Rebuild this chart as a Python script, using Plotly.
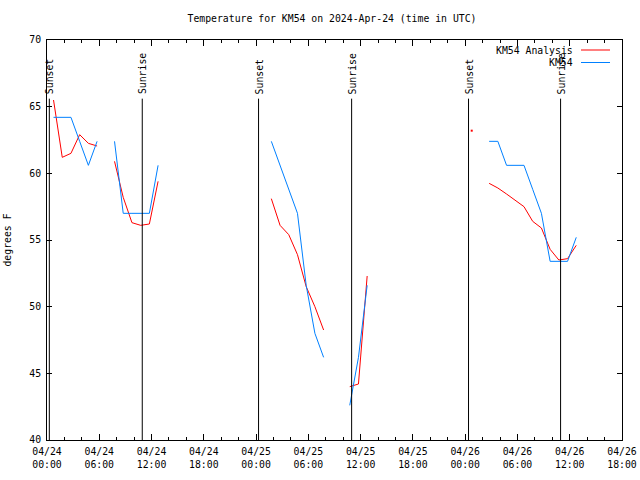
import plotly.graph_objects as go

# ---------------- data ----------------
times = [
    "2024-04-24 00:45", "2024-04-24 01:45", "2024-04-24 02:45", "2024-04-24 03:45",
    "2024-04-24 04:45", "2024-04-24 05:45", "2024-04-24 06:45", "2024-04-24 07:45",
    "2024-04-24 08:45", "2024-04-24 09:45", "2024-04-24 10:45", "2024-04-24 11:45",
    "2024-04-24 12:45", "2024-04-24 13:45",
    "2024-04-25 00:45",
    "2024-04-25 01:45", "2024-04-25 02:45", "2024-04-25 03:45", "2024-04-25 04:45",
    "2024-04-25 05:45", "2024-04-25 06:45", "2024-04-25 07:45", "2024-04-25 08:45",
    "2024-04-25 10:45", "2024-04-25 11:45", "2024-04-25 12:45", "2024-04-25 13:45",
    "2024-04-26 00:45", "2024-04-26 01:45",
    "2024-04-26 02:45", "2024-04-26 03:45", "2024-04-26 04:45", "2024-04-26 05:45",
    "2024-04-26 06:45", "2024-04-26 07:45", "2024-04-26 08:45", "2024-04-26 09:45",
    "2024-04-26 10:45", "2024-04-26 11:45", "2024-04-26 12:45",
]

analysis_temp = [
    65.5, 61.2, 61.5, 62.9,
    62.25, 62.05, None, 60.9,
    58.2, 56.3, 56.1, 56.2,
    59.4, None,
    None,
    58.1, 56.1, 55.4, 53.9,
    51.5, 50.0, 48.25, None,
    44.0, 44.2, 52.3, None,
    63.2, None,
    59.25, 58.9, 58.45, 57.95,
    57.5, 56.4, 55.9, 54.3,
    53.5, 53.6, 54.6,
]

observed_temp = [
    64.2, 64.2, 64.2, 62.4,
    60.6, 62.4, None, 62.4,
    57.0, 57.0, 57.0, 57.0,
    60.6, None,
    None,
    62.4, 60.6, 58.8, 57.0,
    51.6, 48.0, 46.2, None,
    42.6, 46.2, 51.6, None,
    None, None,
    62.4, 62.4, 60.6, 60.6,
    60.6, 58.8, 57.0, 53.4,
    53.4, 53.4, 55.2,
]

series_names = ["KM54 Analysis", "KM54"]
series_colors = ["#ff0000", "#0080ff"]

sun_events = ["Sunset", "Sunrise", "Sunset", "Sunrise", "Sunset", "Sunrise"]
sun_times = ["2024-04-24 00:16", "2024-04-24 10:56", "2024-04-25 00:17",
             "2024-04-25 10:58", "2024-04-26 00:23", "2024-04-26 10:57"]

x_tick_vals = ["2024-04-24 00:00", "2024-04-24 06:00", "2024-04-24 12:00", "2024-04-24 18:00",
               "2024-04-25 00:00", "2024-04-25 06:00", "2024-04-25 12:00", "2024-04-25 18:00",
               "2024-04-26 00:00", "2024-04-26 06:00", "2024-04-26 12:00", "2024-04-26 18:00"]
x_tick_text = ["04/24<br>00:00", "04/24<br>06:00", "04/24<br>12:00", "04/24<br>18:00",
               "04/25<br>00:00", "04/25<br>06:00", "04/25<br>12:00", "04/25<br>18:00",
               "04/26<br>00:00", "04/26<br>06:00", "04/26<br>12:00", "04/26<br>18:00"]
y_tick_vals = [40, 45, 50, 55, 60, 65, 70]

title_text = "Temperature for KM54 on 2024-Apr-24 (time in UTC)"
y_title = "degrees F"

# ---------------- figure ----------------
FONT = "DejaVu Sans Mono"
FS = 9.8
W, H = 640, 480
ML, MR, MT, MB = 47, 18, 40, 40
PW, PH = W - ML - MR, H - MT - MB


def px_to_paper(xpx, ypx):
    return (xpx - ML) / PW, (H - MB - ypx) / PH


fig = go.Figure()

for name, color, vals in [(series_names[0], series_colors[0], analysis_temp),
                          (series_names[1], series_colors[1], observed_temp)]:
    fig.add_trace(go.Scatter(x=times, y=vals, mode="lines", name=name,
                             line=dict(color=color, width=1), connectgaps=False,
                             showlegend=False))
    # isolated points (no neighbours) are drawn as dots, like gnuplot does
    iso_x, iso_y = [], []
    for i, v in enumerate(vals):
        if v is None:
            continue
        prev_none = i == 0 or vals[i - 1] is None
        next_none = i == len(vals) - 1 or vals[i + 1] is None
        if prev_none and next_none:
            iso_x.append(times[i])
            iso_y.append(v)
    if iso_x:
        fig.add_trace(go.Scatter(x=iso_x, y=iso_y, mode="markers",
                                 marker=dict(color=color, size=2, symbol="square"),
                                 showlegend=False, hoverinfo="skip"))

shapes = []
annotations = []
for ev, t in zip(sun_events, sun_times):
    shapes.append(dict(type="line", xref="x", yref="y", x0=t, x1=t, y0=40, y1=65.6,
                       line=dict(color="black", width=1)))
    annotations.append(dict(x=t, y=65.85, xref="x", yref="y", text=ev, textangle=-90,
                            showarrow=False, xanchor="center", yanchor="bottom",
                            xshift=1, borderpad=0,
                            font=dict(family=FONT, size=FS, color="black")))

# gnuplot-style key: text on the left, line sample on the right
key_rows = [50, 62.5]
for name, color, ypx in zip(series_names, series_colors, key_rows):
    xp, yp = px_to_paper(574, ypx)
    annotations.append(dict(x=xp, y=yp, xref="paper", yref="paper", text=name,
                            showarrow=False, xanchor="right", yanchor="middle", borderpad=0,
                            font=dict(family=FONT, size=FS, color="black")))
    x0, _ = px_to_paper(581, ypx)
    x1, _ = px_to_paper(610, ypx)
    shapes.append(dict(type="line", xref="paper", yref="paper",
                       x0=x0, x1=x1, y0=yp, y1=yp,
                       line=dict(color=color, width=1)))

fig.update_layout(
    width=W, height=H,
    paper_bgcolor="white", plot_bgcolor="white",
    margin=dict(l=ML, r=MR, t=MT, b=MB, autoexpand=False),
    font=dict(family=FONT, size=FS, color="black"),
    title=dict(text=title_text, x=332 / W, xref="container", xanchor="center",
               y=1 - 19 / H, yref="container", yanchor="middle",
               font=dict(family=FONT, size=FS, color="black")),
    shapes=shapes, annotations=annotations,
    showlegend=False,
    xaxis=dict(type="date", range=["2024-04-24 00:00", "2024-04-26 18:00"],
               tickvals=x_tick_vals, ticktext=x_tick_text,
               ticks="inside", ticklen=6, tickcolor="black", tickwidth=1,
               showline=True, linecolor="black", linewidth=1, mirror="ticks",
               showgrid=False, zeroline=False, ticklabelstandoff=2,
               minor=dict(ticks="inside", ticklen=3, dtick=2 * 3600 * 1000,
                          tick0="2024-04-24 00:00", tickcolor="black", showgrid=False),
               tickfont=dict(family=FONT, size=FS, color="black")),
    yaxis=dict(range=[40, 70], tickvals=y_tick_vals,
               ticks="inside", ticklen=5, tickcolor="black", tickwidth=1,
               showline=True, linecolor="black", linewidth=1, mirror="ticks",
               showgrid=False, zeroline=False, ticklabelstandoff=3,
               title=dict(text=y_title, standoff=15,
                          font=dict(family=FONT, size=FS, color="black")),
               tickfont=dict(family=FONT, size=FS, color="black")),
)

fig.write_html("out.html", config={"displayModeBar": False},
               post_script="document.body.style.margin='0';document.body.style.overflow='hidden';")
